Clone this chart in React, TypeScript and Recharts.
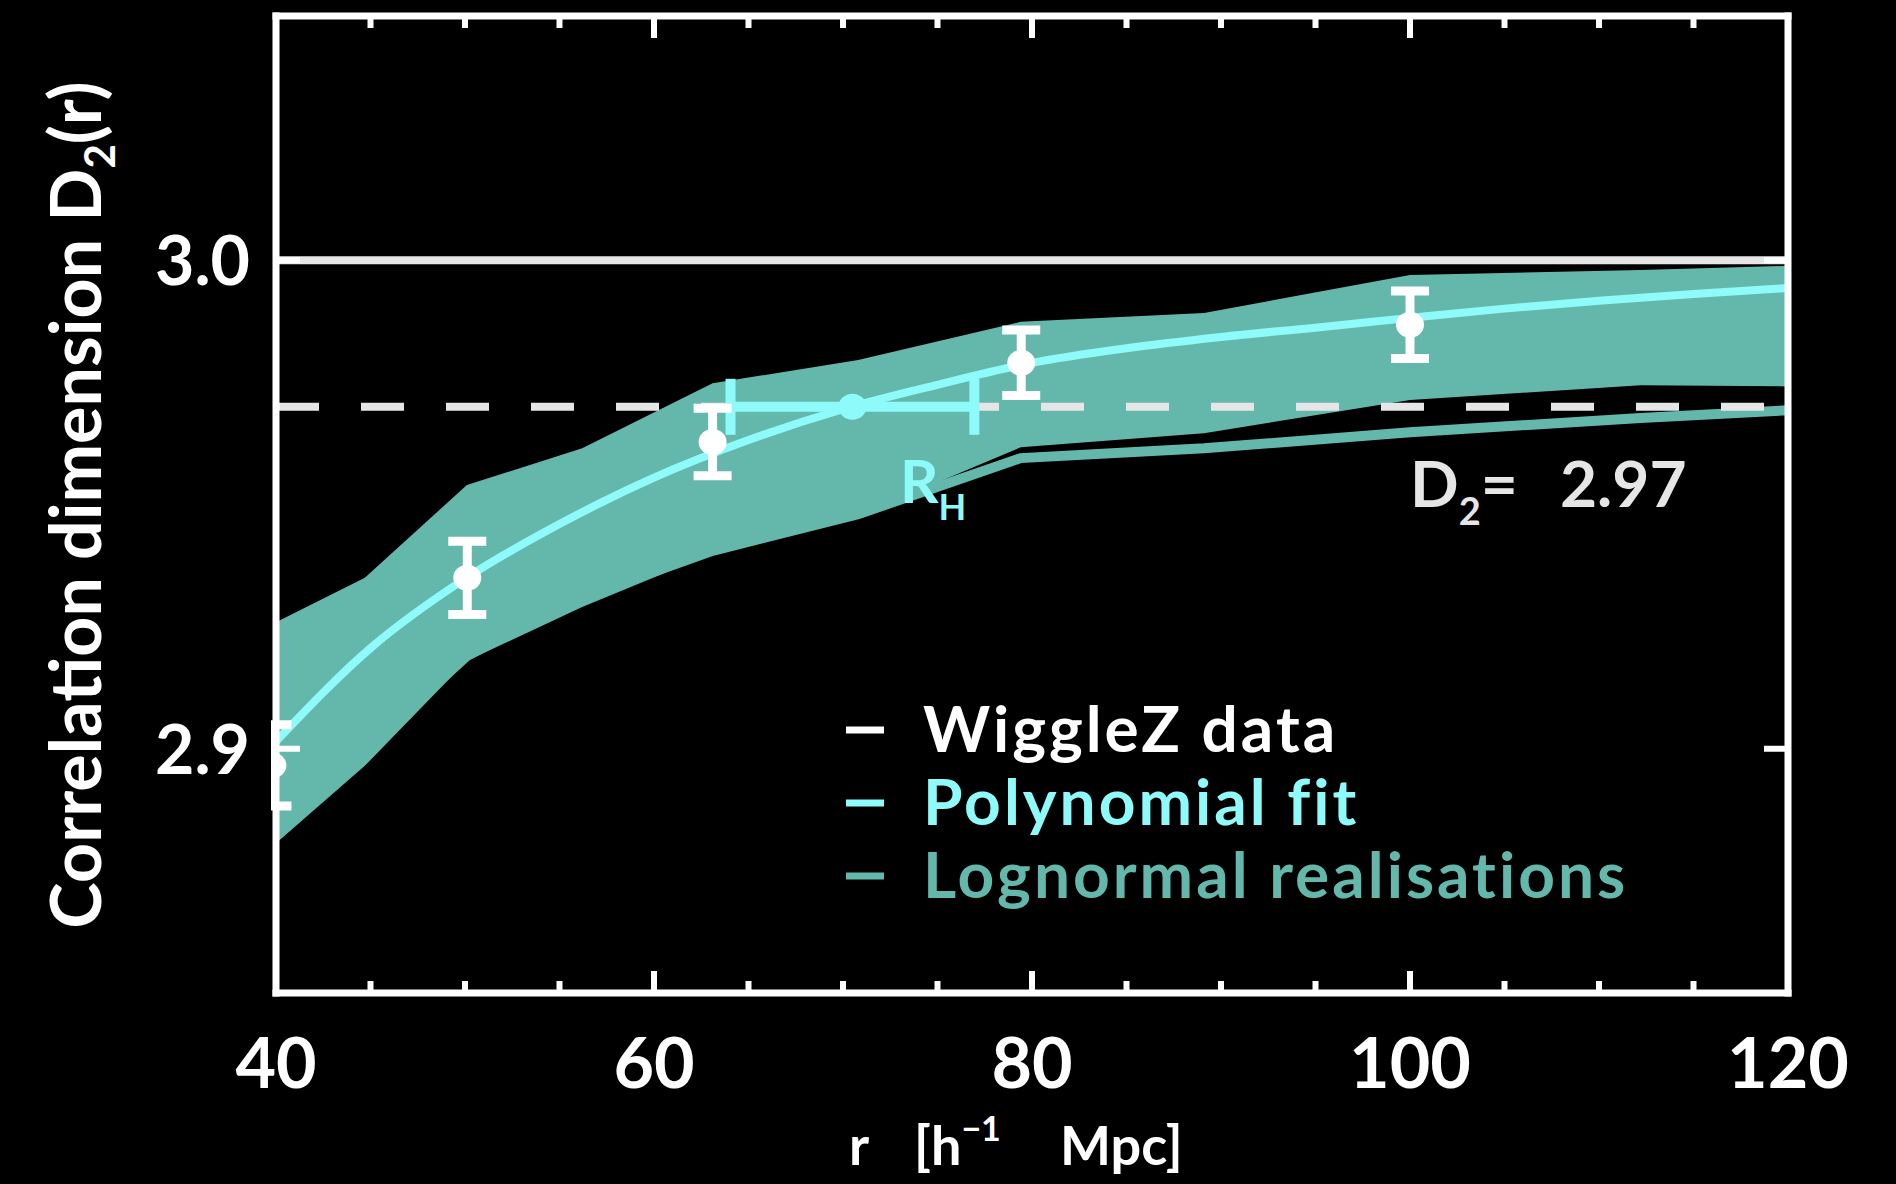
import React from 'react';
import {Area, ComposedChart, ErrorBar, Line, Scatter, XAxis, YAxis} from 'recharts';

const FONT = 'Lato, "Open Sans", sans-serif';
const TEAL = '#63b8ab';
const CYAN = '#8ffafa';
const GREY = '#e6e6e6';

// lognormal realisations, sampled on a log grid in r
const realR = [39.8, 44.7, 50.1, 56.2, 63.1, 70.8, 79.4, 89.1, 100.0, 112.2, 125.9];
const bandUpper = [2.9255, 2.935, 2.954, 2.9615, 2.9748, 2.9796, 2.9874, 2.9892, 2.997, 2.998, 2.9995];
const bandLower = [2.88, 2.8965, 2.918, 2.929, 2.94, 2.9477, 2.9617, 2.9646, 2.9714, 2.9744, 2.974];
const lowRealisation = [2.884, 2.9, 2.919, 2.931, 2.9405, 2.948, 2.9595, 2.9615, 2.9648, 2.9677, 2.9705];

// polynomial fit
const fitR = [40, 45, 50, 55, 60, 65, 70, 75, 80, 85, 90, 95, 100, 105, 110, 115, 120];
const fitD2 = [2.9015, 2.9206, 2.9348, 2.946, 2.9555, 2.9632, 2.9695, 2.9745, 2.979, 2.982, 2.9843, 2.9862, 2.9882, 2.9901, 2.9917, 2.9931, 2.9943];

// WiggleZ data
const dataR = [39.81, 50.12, 63.1, 79.43, 100.0];
const dataD2 = [2.8966, 2.935, 2.9628, 2.979, 2.9868];
const dataErr = [0.0083, 0.0075, 0.0069, 0.0067, 0.0069];

// homogeneity scale R_H
const rhR = [70.5];
const rhD2 = [2.97];
const rhErr = [6.45];

const homogeneous = 3.0;
const threshold = 2.97;

const xTicks = [40, 45, 50, 55, 60, 65, 70, 75, 80, 85, 90, 95, 100, 105, 110, 115, 120];
const xLabels = [40, 60, 80, 100, 120];
const yTicks = [2.9, 3.0];

const legendItems = [
    {label: 'WiggleZ data', color: '#ffffff'},
    {label: 'Polynomial fit', color: CYAN},
    {label: 'Lognormal realisations', color: TEAL},
];

const band = realR.map((r, i) => ({r, lo: bandLower[i], hi: bandUpper[i]}));
const lowLine = realR.map((r, i) => ({r, v: lowRealisation[i]}));
const fit = fitR.map((r, i) => ({r, v: fitD2[i]}));
const points = dataR.map((r, i) => ({r, v: dataD2[i], err: dataErr[i]}));
const rh = rhR.map((r, i) => ({r, v: rhD2[i], err: rhErr[i]}));
const line3 = [{r: 40, v: homogeneous}, {r: 120, v: homogeneous}];
const line297 = [{r: 40, v: threshold}, {r: 120, v: threshold}];

const border = {stroke: '#ffffff', strokeWidth: 7, strokeLinecap: 'square' as const};
const CLIP = 'url(#plotClip)';

function BottomTick(props: any) {
    const {x, y, payload} = props;
    const major = xLabels.includes(payload.value);
    return (
        <g>
            <line x1={x} x2={x} y1={y} y2={y - (major ? 22 : 12)} stroke="#fff" strokeWidth={6}/>
            {major && (
                <text x={x} y={y + 95} textAnchor="middle" fill="#fff" fontSize={70}
                      fontFamily={FONT} fontWeight={700}>{payload.value}</text>
            )}
        </g>
    );
}

function TopTick(props: any) {
    const {x, y, payload} = props;
    const major = xLabels.includes(payload.value);
    return <line x1={x} x2={x} y1={y} y2={y + (major ? 22 : 12)} stroke="#fff" strokeWidth={6}/>;
}

function LeftTick(props: any) {
    const {x, y, payload} = props;
    return (
        <g>
            <line x1={x} x2={x + 24} y1={y} y2={y} stroke="#fff" strokeWidth={6}/>
            <text x={x - 26} y={y + 25} textAnchor="end" fill="#fff" fontSize={68}
                  fontFamily={FONT} fontWeight={700}>{Number(payload.value).toFixed(1)}</text>
        </g>
    );
}

function RightTick(props: any) {
    const {x, y} = props;
    return <line x1={x} x2={x - 24} y1={y} y2={y} stroke="#fff" strokeWidth={6}/>;
}

function Dot(props: any) {
    const {cx, cy, fill} = props;
    return <ellipse cx={cx} cy={cy} rx={14} ry={13} fill={fill} clipPath={CLIP}/>;
}

export default function App(): React.JSX.Element {
    return (
        <div style={{position: 'absolute', left: 0, top: 0, width: 1896, height: 1184, background: '#000'}}>
            <svg width={0} height={0} style={{position: 'absolute'}}>
                <defs>
                    <clipPath id="plotClip" clipPathUnits="userSpaceOnUse">
                        <rect x={271} y={0} width={1522} height={1184}/>
                    </clipPath>
                </defs>
            </svg>
            <ComposedChart width={1896} height={1184} data={band}
                           margin={{top: 15, right: 107, bottom: 190, left: 275}}>
                <XAxis dataKey="r" type="number" domain={[40, 120]} ticks={xTicks} interval={0}
                       allowDataOverflow height={1} tickSize={0} tickMargin={0} tickLine={false}
                       axisLine={border} tick={<BottomTick/>}/>
                <XAxis xAxisId="top" orientation="top" dataKey="r" type="number" domain={[40, 120]}
                       ticks={xTicks} interval={0} allowDataOverflow height={1} tickSize={0} tickMargin={0}
                       tickLine={false} axisLine={border} tick={<TopTick/>}/>
                <YAxis type="number" domain={[2.85, 3.05]} ticks={yTicks} interval={0} allowDataOverflow
                       width={1} tickSize={0} tickMargin={0} tickLine={false} axisLine={border}
                       tick={<LeftTick/>}/>
                <YAxis yAxisId="right" orientation="right" type="number" domain={[2.85, 3.05]} ticks={yTicks}
                       interval={0} allowDataOverflow width={1} tickSize={0} tickMargin={0} tickLine={false}
                       axisLine={border} tick={<RightTick/>}/>

                <Area dataKey={(d: any) => [d.lo, d.hi]} type="linear" fill={TEAL} fillOpacity={1}
                      stroke="none" isAnimationActive={false} activeDot={false}/>
                <Line data={lowLine} dataKey="v" type="linear" stroke={TEAL} strokeWidth={10}
                      dot={false} activeDot={false} isAnimationActive={false}/>
                <Line data={line3} dataKey="v" type="linear" stroke={GREY} strokeWidth={8}
                      dot={false} activeDot={false} isAnimationActive={false}/>
                <Line data={line297} dataKey="v" type="linear" stroke={GREY} strokeWidth={8}
                      strokeDasharray="43 42" dot={false} activeDot={false} isAnimationActive={false}/>
                <Line data={fit} dataKey="v" type="monotone" stroke={CYAN} strokeWidth={8}
                      dot={false} activeDot={false} isAnimationActive={false}/>
                <Scatter data={rh} dataKey="v" fill={CYAN} shape={<Dot/>} isAnimationActive={false}>
                    <ErrorBar dataKey="err" direction="x" width={28} strokeWidth={10} stroke={CYAN}
                              isAnimationActive={false}/>
                </Scatter>
                <Scatter data={points} dataKey="v" fill="#ffffff" shape={<Dot/>} isAnimationActive={false}>
                    <ErrorBar dataKey="err" direction="y" width={19} strokeWidth={9} stroke="#ffffff"
                              clipPath={CLIP} isAnimationActive={false}/>
                </Scatter>
            </ComposedChart>

            <svg width={1896} height={1184} style={{position: 'absolute', left: 0, top: 0, pointerEvents: 'none'}}
                 fontFamily={FONT} fontWeight={700}>
                <text transform="translate(101,505) rotate(-90)" textAnchor="middle" fill="#fff" fontSize={70}>
                    Correlation dimension D<tspan fontSize={42} dy={14}>2</tspan><tspan dy={-14}>(r)</tspan>
                </text>
                <text x={849} y={1165} fill="#fff" fontSize={54}>
                    r<tspan x={914}>[h</tspan><tspan fontSize={34} dy={-24}>−1</tspan>
                    <tspan x={1060} dy={24}>Mpc]</tspan>
                </text>
                <text x={900} y={503} fill={CYAN} fontSize={60}>
                    R<tspan fontSize={36} dy={17}>H</tspan>
                </text>
                <text x={1410} y={507} fill={GREY} fontSize={64}>
                    D<tspan fontSize={38} dy={18}>2</tspan><tspan dy={-18}>=</tspan>
                    <tspan x={1560}>2.97</tspan>
                </text>
                {legendItems.map((it, i) => (
                    <g key={it.label}>
                        <line x1={846} x2={884} y1={730 + i * 73} y2={730 + i * 73} stroke={it.color}
                              strokeWidth={7}/>
                        <text x={923} y={752 + i * 73} fill={it.color} fontSize={64} letterSpacing={3}>
                            {it.label}
                        </text>
                    </g>
                ))}
            </svg>
        </div>
    );
}
